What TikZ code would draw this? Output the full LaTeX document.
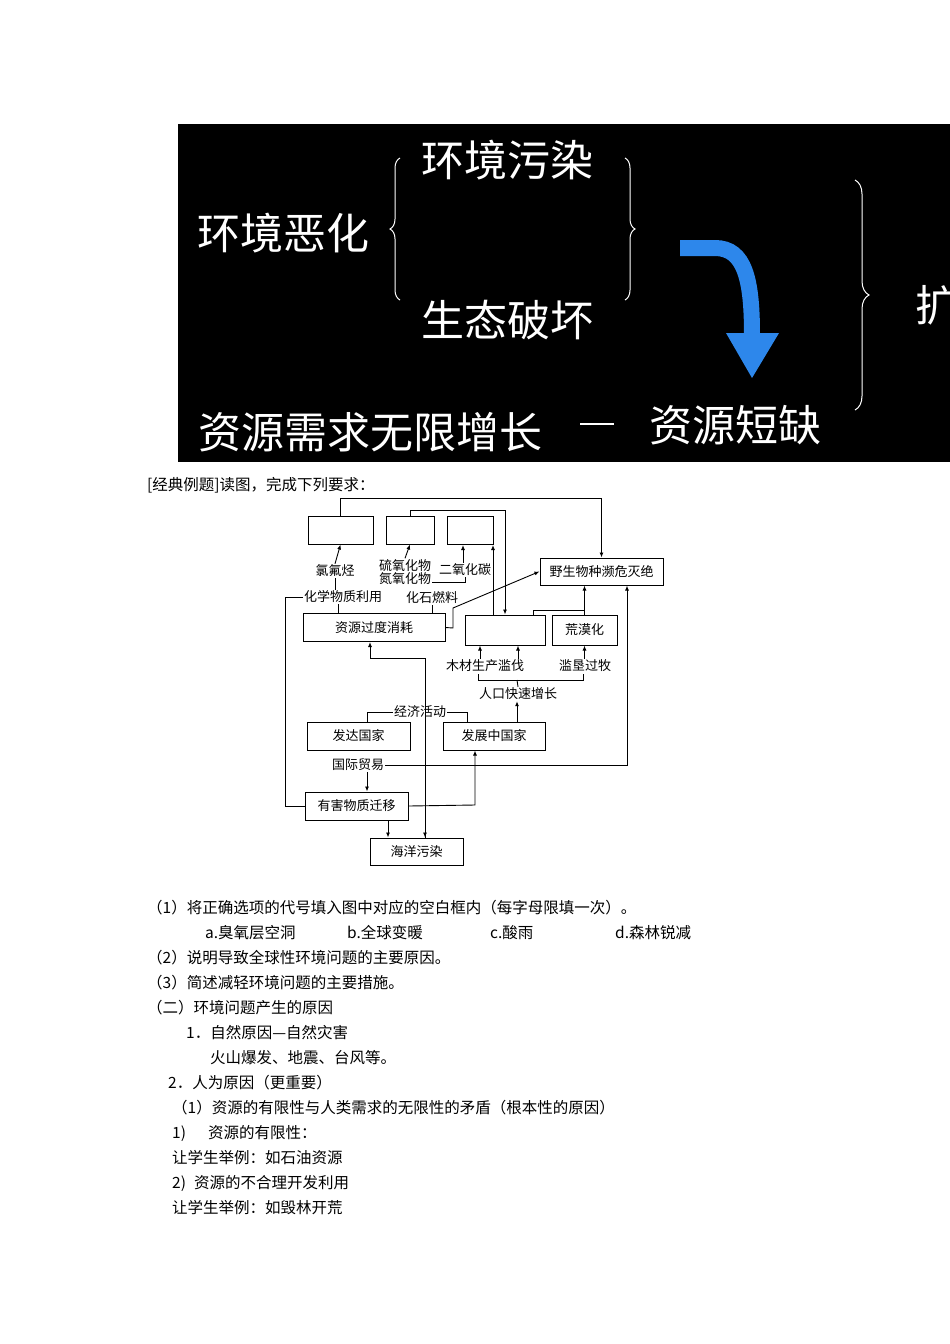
\documentclass[tikz,border=0pt]{standalone}
\usepackage{fontspec}
\setmainfont{Noto Sans CJK SC}
\usetikzlibrary{decorations.pathreplacing,arrows.meta}
\begin{document}
\begin{tikzpicture}[x=1pt,y=-1pt,
  bx/.style={draw,line width=1pt,minimum height=28pt,inner sep=0pt,font=\fontsize{13}{13}\selectfont},
  lb/.style={font=\fontsize{13}{13}\selectfont,inner sep=1pt,fill=white},
  tx/.style={anchor=west,font=\fontsize{15.5}{15.5}\selectfont,inner sep=0pt},
  wt/.style={text=white,font=\fontsize{43}{43}\selectfont,inner sep=0pt},
  ar/.style={-{Latex[length=5pt,width=4pt]},line width=0.9pt},
  ln/.style={line width=0.9pt},
  br/.style={draw=white,line width=1pt,decorate}]
\useasboundingbox (0,0) rectangle (950,1344);
\fill[black] (178,124) rectangle (950,462);
\node[wt] (e1) at (283,233) {环境恶化};
\node[wt] (e2) at (507,160) {环境污染};
\node[wt] (e3) at (507,320) {生态破坏};
\node[wt] (e4) at (370,432) {资源需求无限增长};
\node[wt] (e5) at (735,425) {资源短缺};
\node[wt,anchor=west] (e6) at (915,305) {扩};
\draw[br,decoration={brace,amplitude=10pt}] (400,300) -- (400,158);
\draw[br,decoration={brace,amplitude=10pt}] (625,158) -- (625,300);
\draw[br,decoration={brace,amplitude=14pt}] (855,180) -- (855,410);
\draw[white,line width=2pt] (580,424) -- (614,424);
\draw[line width=16pt,color={rgb,255:red,45;green,135;blue,235}] (680,248) -- (715,248) .. controls (745,248) and (752,280) .. (752,335);
\fill[color={rgb,255:red,45;green,135;blue,235}] (726,333) -- (779,333) -- (752,378) -- cycle;
\node[tx] (t0) at (147,485) {[经典例题]读图，完成下列要求：};
% diagram
\node[bx,minimum width=65pt] (b1) at (340.5,530) {};
\node[bx,minimum width=48pt] (b2) at (410,530) {};
\node[bx,minimum width=46pt] (b3) at (470,530) {};
\node[bx,minimum width=123pt,minimum height=27pt] (ye) at (601.5,571.5) {野生物种濒危灭绝};
\node[bx,minimum width=142pt] (zy) at (374,627.5) {资源过度消耗};
\node[bx,minimum width=80pt,minimum height=30pt] (b4) at (505,630) {};
\node[bx,minimum width=65pt,minimum height=30pt] (hm) at (584.5,630) {荒漠化};
\node[bx,minimum width=103pt] (fd) at (358.5,736) {发达国家};
\node[bx,minimum width=102pt] (fz) at (494,736) {发展中国家};
\node[bx,minimum width=103pt] (yh) at (356.5,806) {有害物质迁移};
\node[bx,minimum width=93pt,minimum height=27pt] (hy) at (416.5,851.5) {海洋污染};
\node[lb] (l1) at (335,571) {氯氟烃};
\node[lb,align=center,font=\fontsize{13}{11}\selectfont] (l2) at (405,572) {硫氧化物\\氮氧化物};
\node[lb] (l3) at (465,570) {二氧化碳};
\node[lb] (l4) at (343,597) {化学物质利用};
\node[lb] (l5) at (432,598) {化石燃料};
\node[lb] (l6) at (485,666) {木材生产滥伐};
\node[lb] (l7) at (585,666) {滥垦过牧};
\node[lb] (l8) at (518,694) {人口快速增长};
\node[lb] (l9) at (420,712) {经济活动};
\node[lb] (l10) at (358,765) {国际贸易};
% connectors
\draw[ar] (b1.north) -- ++(0,-17) -| (ye.north);
\draw[ar] (b2.north) -- ++(0,-5) -| (b4.north);
\draw[ar] (b4.north -| 493,0) -- (493,545);
\draw[ar] (l1.north) -- (b1.south);
\draw[ar] (l2.north) -- (b2.south);
\draw[ar] (l3.north -| 463,0) -- (463,545);
\draw[ln] (l1.south) -- (l4.north -| l1.south);
\draw[ln] (l4.south -| 338,0) -- (zy.north -| 338,0);
\draw[ln] (l5.south) -- (zy.north -| l5.south);
\draw[ln] (l2.east |- 0,582) -- (465,582) -- (l3.south -| 465,0);
\draw[ln] (l4.west) -- (285,597) |- (yh.west);
\draw[ar] (zy.east) -- (453,628) -- (453,608) -- (ye.west);
\draw[ar] (hm.north) -- (ye.south -| hm.north);
\draw[ln] (b4.north -| 533,0) -- (533,610) -- (584.5,610);
\draw[ar] (l6.north -| 480,0) -- (b4.south -| 480,0);
\draw[ar] (l6.north -| 518,0) -- (b4.south -| 518,0);
\draw[ar] (l7.north -| 584.5,0) -- (hm.south);
\draw[ln] (478,674) -- (478,680) -- (583,680) -- (583,674);
\draw[ln] (517,680) -- (l8.north);
\draw[ar] (fz.north -| 517,0) -- (l8.south -| 517,0);
\draw[ln] (fd.north -| 367,0) -- (367,712) -- (l9.west);
\draw[ln] (l9.east) -- (467,712) -- (fz.north -| 467,0);
\draw[ar] (425,838) -- (425,658) -- (370,658) -- (zy.south -| 370,0);
\draw[ar] (yh.east) -- (475,805) -- (fz.south -| 475,0);
\draw[ar] (l10.east) -- (627,765) -- (ye.south -| 627,0);
\draw[ar] (l10.south -| 367,0) -- (yh.north -| 367,0);
\draw[ar] (yh.south -| 388,0) -- (hy.north -| 388,0);
\draw[ar] (425,820) -- (hy.north -| 425,0);
% text below
\node[tx] (p1) at (147,908) {（1）将正确选项的代号填入图中对应的空白框内（每字母限填一次）。};
\node[tx] (p2a) at (205,933) {a.臭氧层空洞};
\node[tx] (p2b) at (347,933) {b.全球变暖};
\node[tx] (p2c) at (490,933) {c.酸雨};
\node[tx] (p2d) at (615,933) {d.森林锐减};
\node[tx] (p3) at (147,958) {（2）说明导致全球性环境问题的主要原因。};
\node[tx] (p4) at (147,983) {（3）简述减轻环境问题的主要措施。};
\node[tx] (p5) at (147,1008) {（二）环境问题产生的原因};
\node[tx] (p6) at (186,1033) {1．自然原因—自然灾害};
\node[tx] (p7) at (210,1058) {火山爆发、地震、台风等。};
\node[tx] (p8) at (168,1083) {2．人为原因（更重要）};
\node[tx] (p9) at (172,1108) {（1）资源的有限性与人类需求的无限性的矛盾（根本性的原因）};
\node[tx] (p10) at (172,1133) {1)\hspace{22pt}资源的有限性：};
\node[tx] (p11) at (172,1158) {让学生举例：如石油资源};
\node[tx] (p12) at (172,1183) {2)\hspace{8pt}资源的不合理开发利用};
\node[tx] (p13) at (172,1208) {让学生举例：如毁林开荒};
\end{tikzpicture}
\end{document}
